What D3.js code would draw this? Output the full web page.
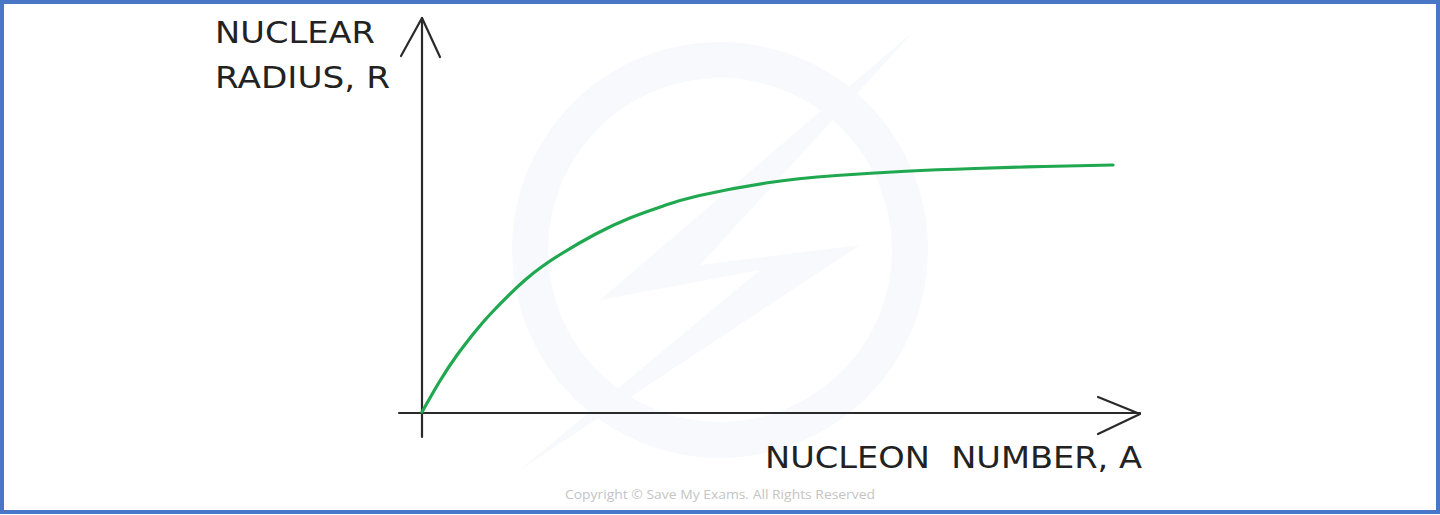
<!DOCTYPE html>
<html>
<head>
<meta charset="utf-8">
<script src="https://cdn.jsdelivr.net/npm/d3@7"></script>
<style>
html,body{margin:0;padding:0;background:#fff;}
svg{display:block;}
</style>
</head>
<body>
<svg id="chart" width="1440" height="515"></svg>
<script>
// Data (arbitrary units: A 0-100, R 0-100)
const nucleonNumber = [0, 2.5, 5, 7.5, 10, 15, 20, 25, 30, 35, 40, 50, 60, 70, 80, 90, 100];
const nuclearRadius = [0, 12, 22.5, 31.5, 39.5, 53, 63, 71, 77.5, 82.5, 86.5, 91.7, 94.6, 96.3, 97.4, 98.2, 98.8];
const yLabelLines = ["NUCLEAR", "RADIUS, R"];
const xLabel = "NUCLEON  NUMBER, A";
const copyright = "Copyright \u00A9 Save My Exams. All Rights Reserved";

const svg = d3.select("#chart");
const W = 1440, H = 515;

const x = d3.scaleLinear().domain([0, 100]).range([422, 1113]);
const y = d3.scaleLinear().domain([0, 100]).range([412, 162]);

// watermark (very faint)
const wm = svg.append("g");
wm.append("circle").attr("cx", 720).attr("cy", 250).attr("r", 190)
  .attr("fill", "none").attr("stroke", "#f7f9fd").attr("stroke-width", 36);
wm.append("path")
  .attr("d", "M915,30 L600,300 L760,270 L520,470 L860,245 L700,265 Z")
  .attr("fill", "#f8f9fc");

// border
svg.append("rect").attr("x", 2).attr("y", 2).attr("width", W - 4).attr("height", H - 5)
  .attr("fill", "none").attr("stroke", "#4a76c8").attr("stroke-width", 4);

const axisColor = "#2a2a2a";
const ax = svg.append("g").attr("stroke", axisColor).attr("stroke-width", 2.2)
  .attr("fill", "none").attr("stroke-linecap", "round").attr("stroke-linejoin", "round");
// y axis
ax.append("line").attr("x1", x(0)).attr("x2", x(0)).attr("y1", 437).attr("y2", 18);
ax.append("path").attr("d", `M${x(0) - 21},56 L${x(0)},18 L${x(0) + 18},57`);
// x axis
ax.append("line").attr("x1", 399).attr("x2", 1140).attr("y1", 413).attr("y2", 413);
ax.append("path").attr("d", `M1098,397 L1140,414 L1098,434`);

// curve
const pts = nucleonNumber.map((a, i) => [a, nuclearRadius[i]]);
svg.append("path").datum(pts)
  .attr("d", d3.line().x(d => x(d[0])).y(d => y(d[1])).curve(d3.curveNatural))
  .attr("fill", "none").attr("stroke", "#1fa84f").attr("stroke-width", 3.2)
  .attr("stroke-linecap", "round");

// labels
const font = "'DejaVu Sans', sans-serif";
const lab = svg.append("g").attr("fill", "#222").attr("font-family", font)
  .attr("font-size", 31);
lab.append("text").attr("x", 215).attr("y", 43).attr("textLength", 160)
  .attr("lengthAdjust", "spacingAndGlyphs").text(yLabelLines[0]);
lab.append("text").attr("x", 215).attr("y", 88).attr("textLength", 175)
  .attr("lengthAdjust", "spacingAndGlyphs").text(yLabelLines[1]);
lab.append("text").attr("x", 765).attr("y", 468).attr("textLength", 377)
  .attr("lengthAdjust", "spacingAndGlyphs").style("white-space", "pre").text(xLabel);

svg.append("text").attr("x", 720).attr("y", 499).attr("text-anchor", "middle")
  .attr("font-family", "'Open Sans', sans-serif").attr("font-size", 12)
  .attr("fill", "#c4c4c4").attr("textLength", 310).attr("lengthAdjust", "spacingAndGlyphs")
  .text(copyright);
</script>
</body>
</html>
